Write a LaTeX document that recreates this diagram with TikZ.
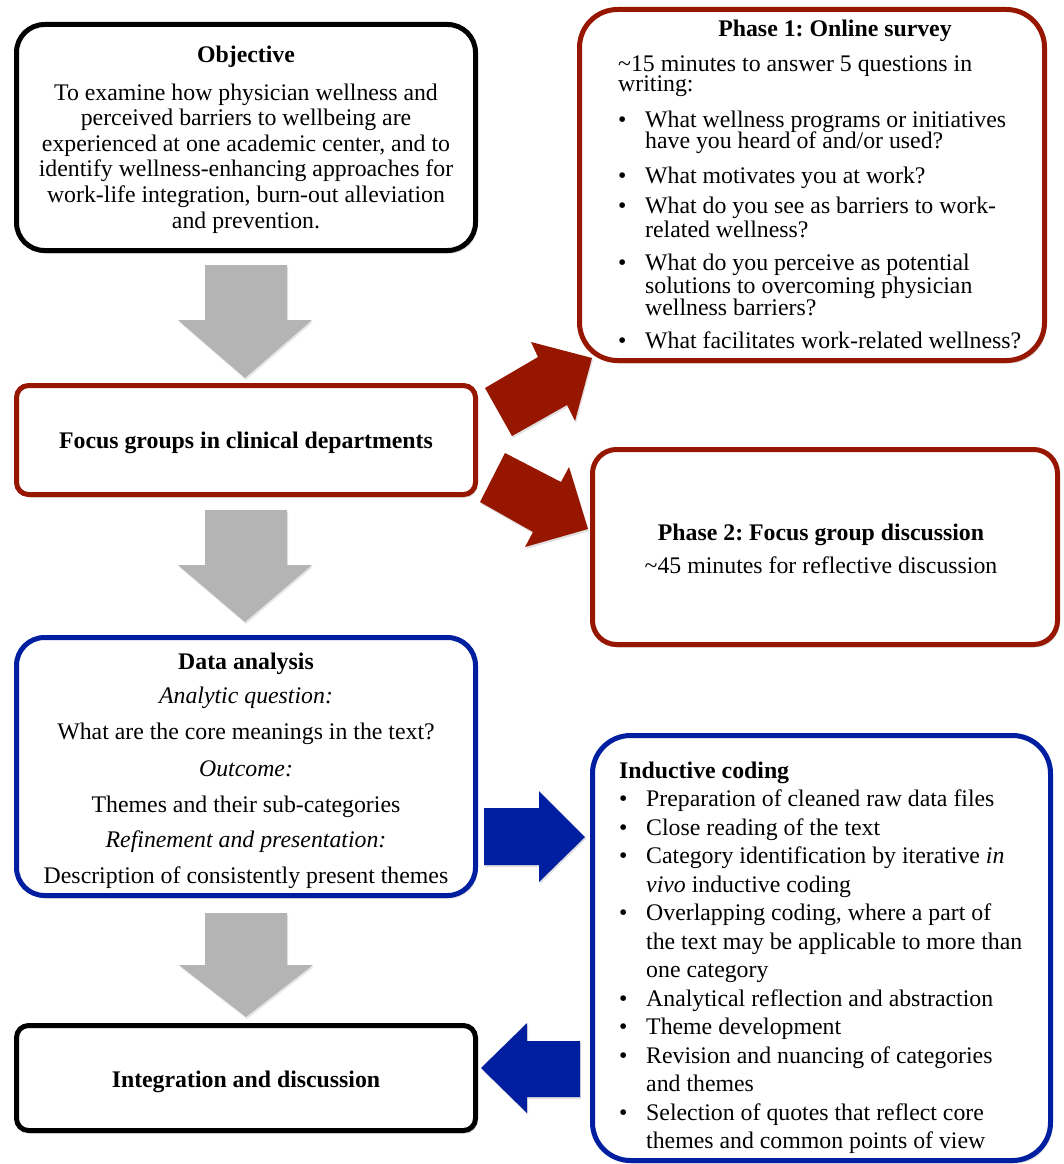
\documentclass[tikz,border=0pt]{standalone}
\usepackage{fontspec}
\setmainfont{Liberation Serif}
\usetikzlibrary{shadows}
\definecolor{dred}{RGB}{150,22,0}
\definecolor{dblue}{RGB}{0,30,160}
\definecolor{agray}{RGB}{180,180,180}
\frenchspacing
\newcommand{\fsz}{\fontsize{23.8}{28}\selectfont}
\begin{document}
\begin{tikzpicture}[x=1pt,y=-1pt,
  box/.style={draw, line width=5pt, fill=white, inner sep=0pt,
    drop shadow={opacity=0.3,shadow xshift=2pt,shadow yshift=-3pt}},
  tx/.style={anchor=base, inner sep=0pt, font=\fsz},
  tl/.style={tx, anchor=base west},
  bul/.style={tl},
  garrow/.style={fill=agray, drop shadow={opacity=0.2,shadow xshift=1pt,shadow yshift=-2pt}},
  rarrow/.style={fill=dred, drop shadow={opacity=0.25,shadow xshift=1pt,shadow yshift=-2pt}},
  barrow/.style={fill=dblue, drop shadow={opacity=0.25,shadow xshift=1pt,shadow yshift=-2pt}}
]
\useasboundingbox (0,0) rectangle (1063,1164);

% ---------- boxes ----------
\node[box, draw=black, rounded corners=28pt, minimum width=459pt, minimum height=226pt] (obj) at (246,137.5) {};
\node[box, draw=dred, rounded corners=12pt, minimum width=459pt, minimum height=109pt] (focus) at (246,440) {};
\node[box, draw=dblue, rounded corners=28pt, minimum width=459pt, minimum height=258pt] (data) at (246,766.5) {};
\node[box, draw=black, rounded corners=12pt, minimum width=459pt, minimum height=105pt] (integ) at (246,1078) {};
\node[box, draw=dred, rounded corners=38pt, minimum width=465pt, minimum height=351pt] (ph1) at (812,185) {};
\node[box, draw=dred, rounded corners=24pt, minimum width=465pt, minimum height=195pt] (ph2) at (825,547) {};
\node[box, draw=dblue, rounded corners=38pt, minimum width=458pt, minimum height=425pt] (ind) at (821.5,948) {};

% ---------- gray arrows ----------
\fill[garrow] (205,265) -- (287,265) -- (287,320) -- (312,320) -- (245,378) -- (178,320) -- (205,320) -- cycle;
\fill[garrow] (205,510) -- (287,510) -- (287,565) -- (312,565) -- (245,622) -- (178,565) -- (205,565) -- cycle;
\fill[garrow] (205,913) -- (287,913) -- (287,965) -- (313,965) -- (246,1017) -- (179,965) -- (205,965) -- cycle;

% ---------- red arrows ----------
\fill[rarrow] (485,388) -- (538,357) -- (531,342) -- (592,358) -- (575,421) -- (567,405) -- (512,436) -- cycle;
\fill[rarrow] (505,453) -- (561,482) -- (569,467) -- (588,529) -- (525,547) -- (533,532) -- (480,502) -- cycle;

% ---------- blue arrows ----------
\fill[barrow] (484,808) -- (539,808) -- (539,791) -- (585,837) -- (539,882) -- (539,865) -- (484,865) -- cycle;
\fill[barrow] (580,1041) -- (527,1041) -- (527,1023) -- (481,1068) -- (527,1113) -- (527,1097) -- (580,1097) -- cycle;

% ---------- Objective ----------
\node[tx, font=\fsz\bfseries] (objt) at (246,63) {Objective};
\node[tx] (o1) at (246,100) {To examine how physician wellness and};
\node[tx] (o2) at (246,125.6) {perceived barriers to wellbeing are};
\node[tx] (o3) at (246,151.2) {experienced at one academic center, and to};
\node[tx] (o4) at (246,176.8) {identify wellness-enhancing approaches for};
\node[tx] (o5) at (246,202.4) {work-life integration, burn-out alleviation};
\node[tx] (o6) at (246,228) {and prevention.};

% ---------- Focus groups ----------
\node[tx, font=\fsz\bfseries] (ft) at (246,448) {Focus groups in clinical departments};

% ---------- Data analysis ----------
\node[tx, font=\fsz\bfseries] (dt) at (246,669) {Data analysis};
\node[tx, font=\fsz\itshape] (d1) at (246,703) {Analytic question:};
\node[tx] (d2) at (246,739) {What are the core meanings in the text?};
\node[tx, font=\fsz\itshape] (d3) at (246,776) {Outcome:};
\node[tx] (d4) at (246,812) {Themes and their sub-categories};
\node[tx, font=\fsz\itshape] (d5) at (246,847) {Refinement and presentation:};
\node[tx] (d6) at (246,883) {Description of consistently present themes};

% ---------- Integration ----------
\node[tx, font=\fsz\bfseries] (it) at (246,1087) {Integration and discussion};

% ---------- Phase 1 ----------
\node[tx, font=\fsz\bfseries] (p1t) at (835,37) {Phase 1: Online survey};
\node[tl] (p1a) at (618,71) {\textasciitilde 15 minutes to answer 5 questions in};
\node[tl] (p1b) at (618,92) {writing:};
\node[bul] (pb1) at (618,127) {\textbullet};
\node[tl] (p1c) at (645,127) {What wellness programs or initiatives};
\node[tl] (p1d) at (645,148) {have you heard of and/or used?};
\node[bul] (pb2) at (618,183) {\textbullet};
\node[tl] (p1e) at (645,183) {What motivates you at work?};
\node[bul] (pb3) at (618,213) {\textbullet};
\node[tl] (p1f) at (645,213) {What do you see as barriers to work-};
\node[tl] (p1g) at (645,237) {related wellness?};
\node[bul] (pb4) at (618,270) {\textbullet};
\node[tl] (p1h) at (645,270) {What do you perceive as potential};
\node[tl] (p1i) at (645,293) {solutions to overcoming physician};
\node[tl] (p1j) at (645,315) {wellness barriers?};
\node[bul] (pb5) at (618,348) {\textbullet};
\node[tl] (p1k) at (645,348) {What facilitates work-related wellness?};

% ---------- Phase 2 ----------
\node[tx, font=\fsz\bfseries] (p2t) at (821,540) {Phase 2: Focus group discussion};
\node[tx] (p2a) at (821,573) {\textasciitilde 45 minutes for reflective discussion};

% ---------- Inductive coding ----------
\node[tl, font=\fsz\bfseries] (ict) at (619,778) {Inductive coding};
\node[bul] (ib1) at (619,806.5) {\textbullet};
\node[tl] (i1) at (646,806.5) {Preparation of cleaned raw data files};
\node[bul] (ib2) at (619,835) {\textbullet};
\node[tl] (i2) at (646,835) {Close reading of the text};
\node[bul] (ib3) at (619,863.5) {\textbullet};
\node[tl] (i3) at (646,863.5) {Category identification by iterative \textit{in}};
\node[tl] (i4) at (646,892) {\textit{vivo} inductive coding};
\node[bul] (ib4) at (619,920.5) {\textbullet};
\node[tl] (i5) at (646,920.5) {Overlapping coding, where a part of};
\node[tl] (i6) at (646,949) {the text may be applicable to more than};
\node[tl] (i7) at (646,977.5) {one category};
\node[bul] (ib5) at (619,1006) {\textbullet};
\node[tl] (i8) at (646,1006) {Analytical reflection and abstraction};
\node[bul] (ib6) at (619,1034.5) {\textbullet};
\node[tl] (i9) at (646,1034.5) {Theme development};
\node[bul] (ib7) at (619,1063) {\textbullet};
\node[tl] (i10) at (646,1063) {Revision and nuancing of categories};
\node[tl] (i11) at (646,1091.5) {and themes};
\node[bul] (ib8) at (619,1120) {\textbullet};
\node[tl] (i12) at (646,1120) {Selection of quotes that reflect core};
\node[tl] (i13) at (646,1148.5) {themes and common points of view};
\end{tikzpicture}
\end{document}
